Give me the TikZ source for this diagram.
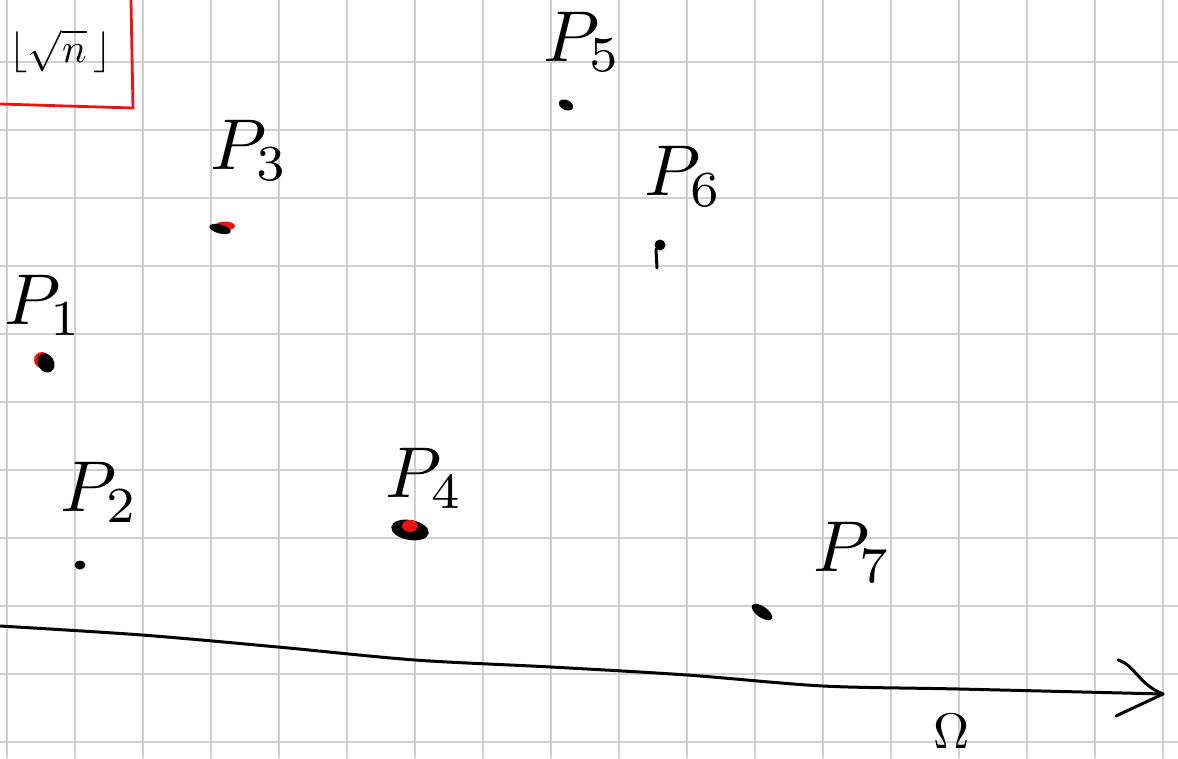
\documentclass[tikz,border=0pt]{standalone}
\usepackage{amsmath}
\usepackage{graphicx}
\usetikzlibrary{shapes.geometric}
\definecolor{gridgray}{RGB}{208,208,208}
\definecolor{inkred}{RGB}{235,20,20}
\newcommand{\bigmath}[2]{\scalebox{#1}{$#2$}}
\begin{document}
\begin{tikzpicture}[x=1pt,y=-1pt, line cap=round, line join=round,
  gridline/.style={draw=gridgray, line width=1.8pt},
  ink/.style={draw=black, line width=3pt},
  redink/.style={draw=inkred, line width=2.8pt},
  lbl/.style={inner sep=0pt},
  blob/.style={ellipse, fill=black, inner sep=0pt},
  redblob/.style={ellipse, fill=inkred, inner sep=0pt}]
\useasboundingbox (0,0) rectangle (1178,758);
\fill[white] (0,0) rectangle (1178,758);
\foreach \x in {7,75,...,1163} \draw[gridline] (\x,0) -- (\x,758);
\foreach \y in {62,130,...,742} \draw[gridline] (0,\y) -- (1178,\y);

% top-left formula and red frame
\node[inner sep=0pt, anchor=east] (fl) at (112,51) {\bigmath{4.1}{\lfloor\sqrt{n}\,\rfloor}};
\coordinate (r1) at (0,104);
\coordinate (r2) at (133,108);
\coordinate (r3) at (131,0);
\draw[redink] (r1) -- (r2) -- (r3);

% points
\node[redblob, minimum width=16pt, minimum height=16pt] (d1r) at (42,360) {};
\node[blob, minimum width=16pt, minimum height=20pt, rotate=30] (d1) at (46,363) {};
\node[blob, minimum width=11pt, minimum height=9pt] (d2) at (80,565) {};
\node[redblob, minimum width=20pt, minimum height=9pt] (d3r) at (225,226) {};
\node[blob, minimum width=22pt, minimum height=9pt, rotate=-15] (d3) at (220,229) {};
\node[blob, minimum width=38pt, minimum height=20pt, rotate=-10] (d4) at (410,530) {};
\node[redblob, minimum width=16pt, minimum height=12pt] (d4r) at (410,526) {};
\node[blob, minimum width=15pt, minimum height=10pt, rotate=-25] (d5) at (566,105) {};
\node[blob, minimum width=11pt, minimum height=11pt] (d6) at (660,245) {};
\draw[ink] (d6.south west) -- (657,268);
\node[blob, minimum width=24pt, minimum height=11pt, rotate=-35] (d7) at (762,612) {};

% labels
\node[lbl] (p1) at (44,305) {\bigmath{7.2}{P_1}};
\node[lbl] (p2) at (100,492) {\bigmath{7.2}{P_2}};
\node[lbl] (p3) at (250,150) {\bigmath{7.2}{P_3}};
\node[lbl] (p4) at (425,478) {\bigmath{7.2}{P_4}};
\node[lbl] (p5) at (583,42) {\bigmath{7.2}{P_5}};
\node[lbl] (p6) at (684,176) {\bigmath{7.2}{P_6}};
\node[lbl] (p7) at (853,552) {\bigmath{7.2}{P_7}};

% axis
\coordinate (a0) at (0,626);
\coordinate (tip) at (1163,694);
\draw[ink] plot[smooth] coordinates {(0,626) (142,635) (278,647) (415,660) (551,667) (687,675) (823,686) (959,689) (1163,694)};
\coordinate (h1) at (1118,660);
\coordinate (h2) at (1116,716);
\draw[ink] (h1) .. controls (1135,665) and (1138,684) .. (tip) -- (h2);
\node[inner sep=0pt] (om) at (952,731) {\bigmath{5}{\Omega}};
\end{tikzpicture}
\end{document}
